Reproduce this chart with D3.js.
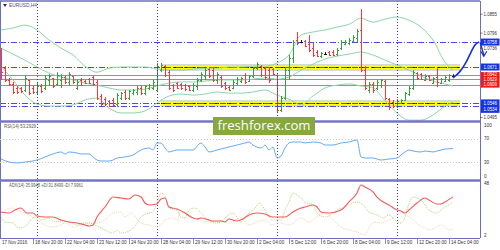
<!DOCTYPE html>
<html><head><meta charset="utf-8">
<script src="https://cdn.jsdelivr.net/npm/d3@7"></script>
<style>body{margin:0;background:#fff}svg{display:block}</style>
</head><body><svg id="c" width="500" height="250"></svg>
<script>
// ---------- DATA ----------
const symbol = "EURUSD,H4";
const open  = [1.0713,1.0667,1.0626,1.0612,1.0598,1.0598,1.0591,1.0626,1.0598,1.0584,1.0605,1.0598,1.0626,1.0633,1.0612,1.0626,1.0636,1.0619,1.0640,1.0598,1.0626,1.0622,1.0629,1.0636,1.0619,1.0570,1.0559,1.0553,1.0556,1.0542,1.0563,1.0584,1.0563,1.0580,1.0584,1.0598,1.0580,1.0598,1.0598,1.0591,1.0660,1.0674,1.0653,1.0608,1.0615,1.0612,1.0608,1.0605,1.0591,1.0605,1.0626,1.0640,1.0664,1.0660,1.0626,1.0636,1.0615,1.0601,1.0598,1.0615,1.0622,1.0643,1.0622,1.0640,1.0667,1.0674,1.0667,1.0660,1.0664,1.0643,1.0521,1.0563,1.0660,1.0702,1.0765,1.0758,1.0761,1.0751,1.0737,1.0723,1.0709,1.0716,1.0723,1.0723,1.0716,1.0737,1.0751,1.0754,1.0761,1.0772,1.0800,1.0660,1.0591,1.0612,1.0598,1.0608,1.0622,1.0559,1.0549,1.0535,1.0546,1.0556,1.0577,1.0598,1.0650,1.0646,1.0626,1.0640,1.0615,1.0636,1.0615,1.0622,1.0626,1.0640];
const high  = [1.0737,1.0674,1.0633,1.0619,1.0605,1.0601,1.0643,1.0626,1.0605,1.0619,1.0612,1.0643,1.0646,1.0633,1.0653,1.0646,1.0640,1.0653,1.0640,1.0626,1.0633,1.0626,1.0633,1.0640,1.0626,1.0577,1.0566,1.0556,1.0563,1.0580,1.0584,1.0591,1.0591,1.0594,1.0605,1.0605,1.0608,1.0612,1.0626,1.0685,1.0685,1.0678,1.0660,1.0612,1.0619,1.0615,1.0612,1.0608,1.0615,1.0633,1.0653,1.0667,1.0667,1.0667,1.0653,1.0640,1.0619,1.0605,1.0626,1.0636,1.0636,1.0650,1.0643,1.0671,1.0688,1.0678,1.0671,1.0671,1.0667,1.0646,1.0570,1.0671,1.0713,1.0765,1.0793,1.0765,1.0765,1.0782,1.0758,1.0730,1.0723,1.0723,1.0727,1.0730,1.0737,1.0765,1.0765,1.0772,1.0782,1.0803,1.0873,1.0674,1.0619,1.0619,1.0626,1.0629,1.0626,1.0563,1.0556,1.0559,1.0559,1.0584,1.0605,1.0660,1.0653,1.0650,1.0646,1.0643,1.0636,1.0667,1.0633,1.0640,1.0646,1.0646];
const low   = [1.0626,1.0619,1.0605,1.0577,1.0577,1.0580,1.0584,1.0573,1.0577,1.0577,1.0580,1.0591,1.0605,1.0598,1.0605,1.0598,1.0612,1.0605,1.0612,1.0591,1.0605,1.0612,1.0612,1.0605,1.0556,1.0535,1.0535,1.0532,1.0532,1.0532,1.0556,1.0556,1.0556,1.0573,1.0573,1.0573,1.0573,1.0591,1.0591,1.0584,1.0653,1.0636,1.0591,1.0584,1.0594,1.0591,1.0587,1.0587,1.0584,1.0591,1.0619,1.0626,1.0633,1.0619,1.0612,1.0598,1.0591,1.0587,1.0594,1.0608,1.0615,1.0612,1.0619,1.0633,1.0660,1.0636,1.0626,1.0615,1.0643,1.0511,1.0514,1.0556,1.0626,1.0685,1.0747,1.0754,1.0740,1.0723,1.0706,1.0706,1.0702,1.0713,1.0709,1.0709,1.0709,1.0730,1.0747,1.0747,1.0754,1.0758,1.0653,1.0591,1.0580,1.0580,1.0591,1.0598,1.0556,1.0521,1.0528,1.0528,1.0542,1.0553,1.0570,1.0591,1.0626,1.0626,1.0622,1.0622,1.0612,1.0601,1.0612,1.0619,1.0619,1.0633];
const close = [1.0653,1.0626,1.0612,1.0584,1.0584,1.0587,1.0633,1.0580,1.0584,1.0605,1.0587,1.0633,1.0640,1.0605,1.0643,1.0636,1.0619,1.0646,1.0619,1.0619,1.0608,1.0615,1.0615,1.0612,1.0563,1.0542,1.0542,1.0535,1.0539,1.0573,1.0580,1.0563,1.0587,1.0591,1.0598,1.0580,1.0605,1.0608,1.0619,1.0674,1.0678,1.0643,1.0598,1.0591,1.0598,1.0598,1.0594,1.0591,1.0608,1.0626,1.0646,1.0660,1.0640,1.0626,1.0646,1.0605,1.0598,1.0591,1.0619,1.0629,1.0633,1.0619,1.0640,1.0667,1.0681,1.0643,1.0636,1.0626,1.0646,1.0521,1.0563,1.0660,1.0702,1.0758,1.0754,1.0758,1.0744,1.0730,1.0713,1.0709,1.0720,1.0716,1.0713,1.0713,1.0730,1.0758,1.0758,1.0765,1.0775,1.0796,1.0660,1.0598,1.0612,1.0591,1.0619,1.0626,1.0563,1.0532,1.0535,1.0553,1.0556,1.0580,1.0598,1.0653,1.0633,1.0629,1.0640,1.0626,1.0633,1.0619,1.0629,1.0636,1.0643,1.0640];

// Bollinger bands (bar index, price)
const bbIdx   = [0,3,6,9,12,15,18,21,24,27,30,33,36,39,42,45,48,51,54,57,60,63,66,69,72,75,78,81,84,87,90,93,96,99,102,105,108,111,113];
const bbUpper = [1.0800,1.0807,1.0817,1.0800,1.0765,1.0737,1.0713,1.0674,1.0653,1.0667,1.0671,1.0671,1.0671,1.0664,1.0660,1.0660,1.0664,1.0667,1.0667,1.0671,1.0671,1.0674,1.0674,1.0685,1.0713,1.0782,1.0793,1.0800,1.0810,1.0820,1.0841,1.0827,1.0838,1.0845,1.0834,1.0810,1.0765,1.0688,1.0660];
const bbMid   = [1.0737,1.0716,1.0695,1.0671,1.0650,1.0636,1.0626,1.0615,1.0608,1.0598,1.0591,1.0591,1.0594,1.0605,1.0615,1.0619,1.0619,1.0622,1.0626,1.0626,1.0626,1.0629,1.0633,1.0629,1.0636,1.0660,1.0681,1.0699,1.0709,1.0716,1.0723,1.0713,1.0695,1.0678,1.0660,1.0640,1.0622,1.0612,1.0605];
const bbLower = [1.0674,1.0626,1.0573,1.0542,1.0535,1.0535,1.0539,1.0556,1.0563,1.0528,1.0511,1.0511,1.0518,1.0546,1.0570,1.0577,1.0573,1.0577,1.0584,1.0580,1.0580,1.0584,1.0591,1.0573,1.0559,1.0539,1.0570,1.0598,1.0608,1.0612,1.0605,1.0598,1.0553,1.0511,1.0486,1.0486,1.0504,1.0535,1.0549];

// RSI(14)
const rsiIdx = [0,2,4,6,8,9,11,13,15,16,17,19,20,22,23,24,25,27,28,29,31,33,35,37,38,39,40,41,42,44,46,48,50,51,52,54,56,57,59,61,62,63,65,66,67,68,69,70,71,72,73,75,76,78,80,81,83,85,87,89,90,91,93,95,97,99,100,101,102,103,105,106,108,109,110,111,113];
const rsiVal = [35.1,29.8,28.1,29.8,31.6,33.3,38.6,43.9,47.4,43.9,47.4,45.6,43.9,43.9,38.6,33.3,31.6,31.6,33.3,36.8,38.6,42.1,50.9,54.4,50.9,63.2,63.2,54.4,47.4,50.9,50.9,50.9,63.2,56.1,47.4,50.9,54.4,56.1,59.6,63.2,64.9,59.6,54.4,59.6,50.9,56.1,36.8,40.4,54.4,63.2,64.9,64.9,63.2,64.9,63.2,59.6,59.6,63.2,64.9,68.4,38.6,36.8,36.8,33.3,35.1,36.8,42.1,47.4,50.9,49.1,47.4,49.1,47.4,49.1,50.9,52.6,53.3];

// ADX(14), +DI, -DI
const adxIdx = [0,2,3.5,5,6.5,8,9,11,13,15,17,19,21,22,23,24,26,28,30,32,33.5,35,36,37,39,40,41,42,44,46,47.5,49,50,52,53,55,56,57,59,60.5,62,64,66,68,69,71,72,73,75,76,78,79,80,82,85,87,89,90,91,93,94,96,97,99,100,101,102,104,106,107,109,110,111,113];
const adxVal = [22.9,22.0,24.6,26.3,22.0,22.0,19.4,18.5,18.5,15.9,14.2,13.3,11.6,10.7,11.6,18.5,27.2,35.9,35.0,34.2,37.7,35.9,30.7,29.0,29.8,34.2,35.0,27.2,25.5,22.0,18.5,16.8,17.7,15.9,15.0,15.0,14.2,16.8,15.0,16.8,20.3,22.0,21.1,18.5,18.5,18.5,20.3,22.9,26.3,27.2,29.0,27.2,22.9,22.0,24.6,31.6,39.4,46.3,44.6,40.3,35.9,30.7,29.0,24.6,23.7,22.0,24.6,30.7,35.0,33.3,29.8,29.8,31.6,36.0];
const pdiIdx = [0,1,3,4,5,6.5,8,9,10,12,13,14,15,17,18,19,20.5,22,23.5,25,26,28,29,30,31.5,33,34,35,37,38,39,40,41,42,44,45,46,47,48.5,50,51,52,53.5,55,56,58,60,61,62,63.5,64.5,66,67,68,70,71,72,73,74,76,78,79,81,83,84,86,88,89,90,92,94,95.5,97,98,99,100,101,102,103,105,106,107,109,110,111,112,113];
const pdiVal = [18.5,14.2,13.3,9.8,9.0,11.6,17.7,18.5,15.9,17.7,15.0,14.2,15.0,14.2,13.3,11.6,13.3,13.3,11.6,9.0,7.2,4.6,7.2,4.6,5.5,9.0,13.3,18.5,22.0,22.9,30.7,39.4,36.8,26.3,24.6,18.5,17.7,24.6,26.3,22.0,18.5,15.9,13.3,14.2,17.7,22.0,14.2,18.5,22.0,26.3,30.7,24.6,18.5,15.9,15.9,24.6,31.6,39.4,37.7,31.6,29.0,22.0,18.5,22.0,24.6,27.2,30.7,31.6,30.7,22.9,20.3,17.7,20.3,17.7,14.2,13.3,18.5,30.7,35.9,33.3,29.0,24.6,22.0,24.6,27.2,29.0,31.8];
const mdiIdx = [0,1,3,5,7,9,11,13,15,16,18,20,22,24,26,28,30,31,32.5,35,37,39,40,41,43,44,45,46,48,50,52,55,57,60,62,64,66,67.5,70,72,74,75,77,79,81,83,85,87,89,91,92,93.5,95,97,98.5,100,101,102.5,104.5,106,107,108.5,110,111,112,113];
const mdiVal = [20.3,24.6,26.3,22.9,20.3,15.9,11.6,9.8,11.6,13.3,9.8,11.6,13.3,13.3,15.9,22.0,22.9,18.5,22.0,13.3,11.6,9.8,11.6,15.9,17.7,15.9,22.9,22.9,17.7,15.9,14.2,15.0,13.3,17.7,11.6,14.2,15.9,11.6,13.3,11.6,15.9,17.7,14.2,18.5,22.0,15.9,9.8,7.2,5.5,2.9,9.0,14.2,13.3,15.9,18.5,22.9,20.3,17.7,11.6,9.0,7.2,9.0,11.6,9.8,7.2,8.0];

// time axis
const timeLabels = ["17 Nov 2016","18 Nov 20:00","22 Nov 04:00","23 Nov 12:00","24 Nov 20:00","28 Nov 04:00","29 Nov 12:00","30 Nov 20:00","2 Dec 04:00","5 Dec 12:00","6 Dec 20:00","8 Dec 04:00","9 Dec 12:00","12 Dec 20:00","14 Dec 04:00"];
const timeIdx = [0,8,16,24,32,40,48,56,64,72,80,88,96,104,112];
const weekIdx = [9,39,69,99];

// price axis labels and levels
const priceTicks = [1.0855,1.0796,1.0736,1.0495];
const blueLevels = [1.0758,1.0671,1.0546,1.0534];
const redLevels = [1.0642,1.0629,1.0609];
const yellowLevels = [1.0671,1.0546];
const yellowFrom = 40, yellowTo = 114;
const forecastIdx = [113,114.75,116.25,117.5,118.5,119.5];
const forecastPx  = [1.0633,1.0653,1.0685,1.0723,1.0751,1.0758];
const arrowIdx = [119.8,120.7];
const arrowPx  = [1.0757,1.0712];
const rsiLevels = [70,30];
const rsiAxis = [100,70,30,0];
const adxAxis = [48,2];
const rsiText = "RSI(14) 53.2929";
const adxText = "ADX(14) 35.9948 +DI:31.8499 -DI:7.9961";
const watermark = "freshforex.com";

// ---------- DRAW ----------
const svg = d3.select("#c");
const FONT = "Liberation Sans, Arial, sans-serif";
const x = d3.scaleLinear().domain([0,100]).range([1,401]);
const y = d3.scaleLinear().domain([1.0483,1.0901]).range([121,1]);
const yr = d3.scaleLinear().domain([0,100]).range([179,122]);
const ya = d3.scaleLinear().domain([2,48]).range([236,183.1]);
const R = 480;

const defs = svg.append("defs");
defs.append("clipPath").attr("id","cm").append("rect").attr("x",0).attr("y",1).attr("width",R).attr("height",120);
defs.append("clipPath").attr("id","cr").append("rect").attr("x",0).attr("y",123).attr("width",R).attr("height",57);
defs.append("clipPath").attr("id","ca").append("rect").attr("x",0).attr("y",182).attr("width",R).attr("height",56);

const main = svg.append("g").attr("clip-path","url(#cm)");

// week separators (all panels)
weekIdx.forEach(i=>{
  svg.append("line").attr("x1",x(i)+0.5).attr("x2",x(i)+0.5).attr("y1",1).attr("y2",238)
    .attr("stroke","#3c3ca0").attr("stroke-dasharray","1,2").attr("stroke-width",1);
});

// yellow bands
yellowLevels.forEach(p=>{
  const yy = Math.round(y(p))+0.5;
  main.append("line").attr("x1",x(yellowFrom)).attr("x2",x(yellowTo)+3).attr("y1",yy).attr("y2",yy).attr("stroke","#d9d9d9").attr("stroke-width",7);
  main.append("line").attr("x1",x(yellowFrom)).attr("x2",x(yellowTo)+3).attr("y1",yy).attr("y2",yy).attr("stroke","#ffff20").attr("stroke-width",3);
  main.append("line").attr("x1",x(yellowFrom)).attr("x2",x(yellowTo)+3).attr("y1",yy).attr("y2",yy).attr("stroke","#222").attr("stroke-width",1).attr("stroke-dasharray","4,2");
});
// blue dash-dot levels
blueLevels.forEach(p=>{
  const yy = Math.round(y(p))+0.5;
  main.append("line").attr("x1",0).attr("x2",R).attr("y1",yy).attr("y2",yy).attr("stroke","#4848f0").attr("stroke-width",1).attr("stroke-dasharray","6,2,1,2");
});
// red levels
redLevels.forEach(p=>{
  const yy = Math.round(y(p))+0.5;
  main.append("line").attr("x1",0).attr("x2",R).attr("y1",yy).attr("y2",yy).attr("stroke","#ff6666").attr("stroke-width",1);
});

// bollinger
const bbLine = arr => d3.line().x((d,k)=>x(bbIdx[k])).y(d=>y(d)).curve(d3.curveMonotoneX)(arr);
[bbUpper,bbMid,bbLower].forEach(a=>main.append("path").attr("d",bbLine(a)).attr("fill","none").attr("stroke","#8fd6a8").attr("stroke-width",1));

// bars
open.forEach((o,i)=>{
  const c = close[i];
  const col = c>o ? "#3f9b3f" : (c<o ? "#f03a3a" : "#111");
  const cx = Math.round(x(i))+0.5;
  const g = main.append("g").attr("stroke",col).attr("stroke-width",1);
  g.append("line").attr("x1",cx).attr("x2",cx).attr("y1",y(high[i])).attr("y2",y(low[i]));
  g.append("line").attr("x1",cx-1.5).attr("x2",cx).attr("y1",Math.round(y(o))+0.5).attr("y2",Math.round(y(o))+0.5);
  g.append("line").attr("x1",cx).attr("x2",cx+1.5).attr("y1",Math.round(y(c))+0.5).attr("y2",Math.round(y(c))+0.5);
});

// frame
svg.append("line").attr("x1",0).attr("x2",R).attr("y1",1).attr("y2",1).attr("stroke","#6e6ec4").attr("stroke-width",1.5);
svg.append("line").attr("x1",0.5).attr("x2",0.5).attr("y1",1).attr("y2",238).attr("stroke","#6e6ec4").attr("stroke-width",1);
svg.append("line").attr("x1",R+0.5).attr("x2",R+0.5).attr("y1",1).attr("y2",238).attr("stroke","#6e6ec4").attr("stroke-width",1);
[121.5,180.5].forEach(yy=>svg.append("line").attr("x1",0).attr("x2",R).attr("y1",yy).attr("y2",yy).attr("stroke","#7474cc").attr("stroke-width",2.5));
svg.append("line").attr("x1",0).attr("x2",R).attr("y1",238.5).attr("y2",238.5).attr("stroke","#6e6ec4").attr("stroke-width",1);

// forecast arrow
svg.append("path").attr("d",d3.line().x((d,k)=>x(forecastIdx[k])).y(d=>y(d)).curve(d3.curveBasis)(forecastPx))
  .attr("fill","none").attr("stroke","#1530d8").attr("stroke-width",1.6);
svg.append("path").attr("d",d3.line().x((d,k)=>x(arrowIdx[k])).y(d=>y(d))(arrowPx))
  .attr("fill","none").attr("stroke","#1530d8").attr("stroke-width",1.4);
{
  const ax = x(arrowIdx[1]), ay = y(arrowPx[1]);
  svg.append("path").attr("d",`M${ax-3},${ay-4}L${ax},${ay+1}L${ax+3},${ay-4}`).attr("fill","none").attr("stroke","#1530d8").attr("stroke-width",1.2);
}

// price axis
const txt = (g,xx,yy,s,opt={}) => g.append("text").attr("x",xx).attr("y",yy).text(s)
  .attr("font-family",FONT).attr("font-size",opt.size||5.6).attr("fill",opt.fill||"#333")
  .attr("text-anchor",opt.anchor||"start").attr("dominant-baseline","middle")
  .attr("textLength",opt.tl||null).attr("lengthAdjust","spacingAndGlyphs");
const tickOffsets = {1.0796:2};
priceTicks.forEach(p=>{
  const yy = y(p)+(tickOffsets[p]||0);
  svg.append("line").attr("x1",R).attr("x2",R+2.5).attr("y1",yy).attr("y2",yy).attr("stroke","#555").attr("stroke-width",0.8);
  txt(svg,483.5,yy,d3.format(".4f")(p),{tl:13.5,size:5.3});
});
const boxOff = {1.0534:3};
blueLevels.forEach(p=>{
  const yy = y(p)+(boxOff[p]||0);
  svg.append("rect").attr("x",R+1).attr("y",yy-3.5).attr("width",18.5).attr("height",7).attr("fill","#1434e6");
  txt(svg,483.5,yy+0.3,d3.format(".4f")(p),{fill:"#fff",tl:13.5,size:5.3});
});
const redOff = {1.0642:-0.5,1.0629:0.5,1.0609:0};
redLevels.forEach(p=>{
  const yy = y(p)+(redOff[p]||0);
  svg.append("rect").attr("x",R+1).attr("y",yy-2.8).attr("width",18.5).attr("height",5.6).attr("fill","#ff1414");
  txt(svg,483.5,yy+0.3,d3.format(".4f")(p),{fill:"#fff",tl:13.5,size:5});
});

// top-left symbol
svg.append("path").attr("d","M3,4L7,4L5,7Z").attr("fill","#333");
txt(svg,9,6,symbol,{fill:"#555",tl:28});

// RSI panel
rsiLevels.forEach(v=>svg.append("line").attr("x1",0).attr("x2",R).attr("y1",Math.round(yr(v))+0.5).attr("y2",Math.round(yr(v))+0.5)
  .attr("stroke","#c8c8c8").attr("stroke-dasharray","1,2"));
svg.append("g").attr("clip-path","url(#cr)").append("path")
  .attr("d",d3.line().x((d,k)=>x(rsiIdx[k])).y(d=>yr(d)).curve(d3.curveMonotoneX)(rsiVal))
  .attr("fill","none").attr("stroke","#6aaaf5").attr("stroke-width",1);
txt(svg,4,127,rsiText,{fill:"#555",tl:32});
const rsiLabY = {100:125.5,70:139,30:162.5,0:177};
rsiAxis.forEach(v=>txt(svg,484,rsiLabY[v],String(v),{tl:String(v).length*2.6}));

// ADX panel
const ga = svg.append("g").attr("clip-path","url(#ca)");
ga.append("path").attr("d",d3.line().x((d,k)=>x(mdiIdx[k])).y(d=>ya(d)).curve(d3.curveMonotoneX)(mdiVal))
  .attr("fill","none").attr("stroke","#f6d3b0").attr("stroke-width",1).attr("stroke-dasharray","1,1");
ga.append("path").attr("d",d3.line().x((d,k)=>x(pdiIdx[k])).y(d=>ya(d)).curve(d3.curveMonotoneX)(pdiVal))
  .attr("fill","none").attr("stroke","#b2d678").attr("stroke-width",1).attr("stroke-dasharray","1,1");
ga.append("path").attr("d",d3.line().x((d,k)=>x(adxIdx[k])).y(d=>ya(d)).curve(d3.curveMonotoneX)(adxVal))
  .attr("fill","none").attr("stroke","#f25a5a").attr("stroke-width",1.1);
txt(svg,9,186,adxText,{fill:"#555",tl:74});
const adxLabY = {48:184,2:236};
adxAxis.forEach(v=>txt(svg,484,adxLabY[v],String(v),{tl:String(v).length*2.6}));

// time axis
timeLabels.forEach((s,k)=>{
  const xx = x(timeIdx[k]);
  if(k>0) svg.append("line").attr("x1",xx+0.5).attr("x2",xx+0.5).attr("y1",239).attr("y2",244).attr("stroke","#666").attr("stroke-width",0.7);
  txt(svg,xx+(k>0?2:1),242.5,s,{tl:s.length*2.3,fill:"#333"});
});

// watermark
svg.append("rect").attr("x",213).attr("y",117).attr("width",102).attr("height",18).attr("fill","#86a83d");
svg.append("text").attr("x",264).attr("y",126.5).text(watermark).attr("font-family","Open Sans, DejaVu Sans, sans-serif")
  .attr("font-size",13).attr("fill","#fff").attr("text-anchor","middle").attr("dominant-baseline","middle")
  .attr("textLength",93).attr("lengthAdjust","spacingAndGlyphs");
</script></body></html>
